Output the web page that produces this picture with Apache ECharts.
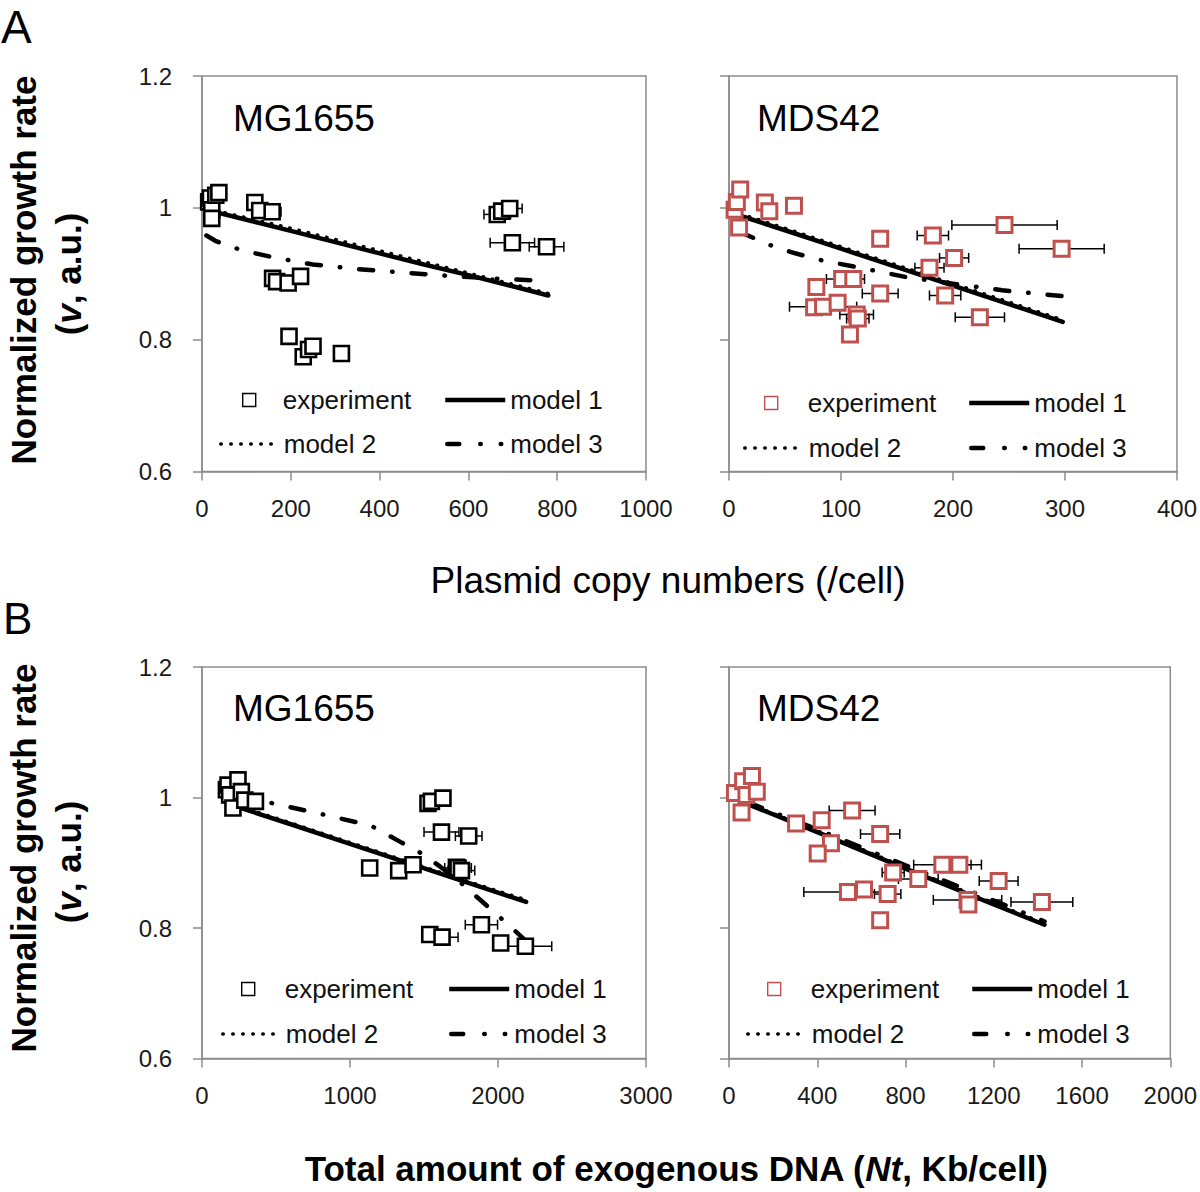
<!DOCTYPE html>
<html><head><meta charset="utf-8">
<script src="https://cdn.jsdelivr.net/npm/echarts@6/dist/echarts.min.js"></script>
<style>html,body{margin:0;padding:0;background:#fff}#chart{width:1200px;height:1192px}</style>
</head><body><div id="chart"></div><script>
// ---------- DATA ----------
// Panel A, MG1655 (plasmid copy numbers)
const aMgX   = [15, 19, 22, 22, 31, 38, 119, 130, 158, 159, 168, 194, 222, 196, 228, 240, 250, 314, 665, 675, 693, 699, 776];
const aMgY   = [1.009, 1.015, 0.997, 0.984, 1.019, 1.023, 1.008, 0.996, 0.994, 0.893, 0.888, 0.886, 0.896, 0.805, 0.774, 0.785, 0.790, 0.779, 0.990, 0.995, 0.999, 0.947, 0.941];
const aMgErr = [0, 0, 0, 0, 0, 0, 0, 10, 20, 0, 0, 0, 0, 0, 0, 0, 0, 0, 30, 25, 28, 50, 39];
const aMgModelX  = [10, 100, 200, 300, 400, 500, 600, 700, 780];
const aMgModel1  = [0.997, 0.982, 0.965, 0.948, 0.931, 0.914, 0.898, 0.881, 0.867];
const aMgModel2  = [0.999, 0.985, 0.969, 0.952, 0.935, 0.918, 0.901, 0.884, 0.870];
const aMgModel3X = [10, 30, 60, 100, 160, 250, 350, 450, 550, 650, 780];
const aMgModel3  = [0.958, 0.950, 0.942, 0.934, 0.925, 0.914, 0.907, 0.902, 0.897, 0.893, 0.889];

// Panel A, MDS42
const aMdsX   = [5, 7, 10, 9, 32, 36, 58, 135, 182, 246, 297, 201, 179, 78, 101, 111, 135, 193, 76, 84, 97, 114, 115, 108, 224];
const aMdsY   = [0.997, 1.009, 1.028, 0.970, 1.008, 0.995, 1.003, 0.953, 0.958, 0.974, 0.938, 0.924, 0.909, 0.880, 0.892, 0.892, 0.870, 0.867, 0.849, 0.850, 0.856, 0.838, 0.832, 0.808, 0.834];
const aMdsErr = [0, 0, 0, 0, 0, 0, 0, 0, 14, 47, 38, 13, 13, 0, 14, 10, 16, 14, 0, 30, 0, 15, 10, 0, 22];
const aMdsModelX  = [10, 50, 100, 150, 200, 250, 298];
const aMdsModel1  = [0.988, 0.966, 0.938, 0.910, 0.882, 0.854, 0.827];
const aMdsModel2  = [0.991, 0.969, 0.941, 0.913, 0.885, 0.857, 0.830];
const aMdsModel3X = [10, 17, 34, 57, 81, 129, 158, 200, 244, 298];
const aMdsModel3  = [0.963, 0.958, 0.945, 0.932, 0.921, 0.905, 0.895, 0.885, 0.875, 0.866];

// Panel B, MG1655 (total exogenous DNA)
const bMgX   = [165, 176, 187, 209, 243, 266, 289, 361, 1133, 1329, 1426, 1527, 1550, 1628, 1618, 1802, 1719, 1730, 1753, 1888, 1539, 1622, 2018, 2185];
const bMgY   = [1.012, 1.019, 1.004, 0.984, 1.027, 1.009, 0.996, 0.994, 0.892, 0.888, 0.897, 0.991, 0.994, 0.999, 0.947, 0.941, 0.893, 0.892, 0.888, 0.805, 0.790, 0.786, 0.777, 0.772];
const bMgErr = [0, 0, 0, 0, 0, 0, 0, 0, 0, 0, 0, 0, 0, 0, 118, 90, 0, 90, 90, 109, 0, 108, 0, 178];
const bMgModelX  = [260, 600, 1000, 1400, 1800, 2190];
const bMgModel1  = [0.984, 0.959, 0.929, 0.899, 0.869, 0.840];
const bMgModel2  = [0.986, 0.961, 0.931, 0.901, 0.871, 0.843];
const bMgModel3X = [250, 420, 780, 1140, 1340, 1470, 1610, 1750, 1930, 2040, 2190];
const bMgModel3  = [1.000, 0.994, 0.976, 0.957, 0.932, 0.916, 0.894, 0.869, 0.833, 0.811, 0.780];

// Panel B, MDS42
const bMdsX   = [27, 57, 64, 79, 104, 126, 304, 420, 558, 685, 462, 402, 744, 858, 967, 1044, 1222, 539, 612, 719, 1081, 1085, 1418, 685];
const bMdsY   = [1.007, 0.977, 1.025, 1.004, 1.033, 1.009, 0.960, 0.965, 0.980, 0.944, 0.930, 0.914, 0.885, 0.875, 0.897, 0.897, 0.872, 0.855, 0.859, 0.852, 0.843, 0.836, 0.840, 0.812];
const bMdsErr = [0, 0, 0, 0, 0, 0, 0, 0, 104, 89, 0, 0, 50, 90, 130, 100, 88, 200, 0, 60, 155, 0, 140, 0];
const bMdsModelX  = [90, 400, 800, 1200, 1430];
const bMdsModel1  = [0.989, 0.947, 0.891, 0.836, 0.805];
const bMdsModel2  = [0.990, 0.949, 0.893, 0.838, 0.807];
const bMdsModel3X = [90, 400, 800, 1200, 1430];
const bMdsModel3  = [0.992, 0.951, 0.896, 0.842, 0.810];

// Axis ranges / tick labels
const yTicks = [0.6, 0.8, 1.0, 1.2];
const xRanges = [[0, 1000, 200], [0, 400, 100], [0, 3000, 1000], [0, 2000, 400]];
const strainNames = ['MG1655', 'MDS42', 'MG1655', 'MDS42'];
const legendLabels = ['experiment', 'model 1', 'model 2', 'model 3'];

// ---------- STYLE / LAYOUT ----------
const FONT = '"Liberation Sans", Arial, Helvetica, sans-serif';
const AXIS_GRAY = '#8c8c8c';
const RED = '#C0504D';
const gridsPos = [
  {left: 202, top: 76, width: 444, height: 395.5},
  {left: 729, top: 76, width: 449, height: 395.5},
  {left: 202, top: 667, width: 444, height: 391.5},
  {left: 729, top: 667, width: 449, height: 391.5}
];
const panels = [
  {id: 'A1', color: '#000', bw: 2.6, ex: aMgX, ey: aMgY, err: aMgErr, mx: aMgModelX, m1: aMgModel1, m2: aMgModel2, m3x: aMgModel3X, m3: aMgModel3},
  {id: 'A2', color: RED, bw: 3, ex: aMdsX, ey: aMdsY, err: aMdsErr, mx: aMdsModelX, m1: aMdsModel1, m2: aMdsModel2, m3x: aMdsModel3X, m3: aMdsModel3},
  {id: 'B1', color: '#000', bw: 2.6, ex: bMgX, ey: bMgY, err: bMgErr, mx: bMgModelX, m1: bMgModel1, m2: bMgModel2, m3x: bMgModel3X, m3: bMgModel3},
  {id: 'B2', color: RED, bw: 3, ex: bMdsX, ey: bMdsY, err: bMdsErr, mx: bMdsModelX, m1: bMdsModel1, m2: bMdsModel2, m3x: bMdsModel3X, m3: bMdsModel3}
];
// legend placement per panel: [row1 centre y, row2 centre y, square left, text start, line left (col2), dotted left]
const legendPos = [
  [400, 444, 242, 282, 443, 217],
  [403, 448, 764, 807, 967, 741],
  [989, 1034, 241, 284, 447, 219],
  [989, 1034, 767, 810, 970, 744]
];
const M1_STYLE = {color: '#000', width: 4.5, type: 'solid', cap: 'round'};
const M2_STYLE = {color: '#000', width: 3.5, type: [0.5, 9], cap: 'round'};
const M3_STYLE = {color: '#000', width: 4.5, type: [14, 19, 0.5, 19], cap: 'round'};

const zip = (xs, ys) => xs.map((x, i) => [x, ys[i]]);

const grid = gridsPos.map(g => Object.assign({show: true, borderColor: AXIS_GRAY, borderWidth: 1.5, backgroundColor: 'transparent'}, g));
const xAxis = xRanges.map((r, i) => ({
  type: 'value', gridIndex: i, min: r[0], max: r[1], interval: r[2],
  axisLine: {show: true, onZero: false, lineStyle: {color: AXIS_GRAY, width: 1.5}},
  axisTick: {show: true, inside: false, length: 9, lineStyle: {color: AXIS_GRAY, width: 1.5}},
  axisLabel: {fontSize: 24, color: '#1a1a1a', fontFamily: FONT, margin: 25, formatter: v => String(v)},
  splitLine: {show: false}
}));
const yAxis = [0, 1, 2, 3].map(i => ({
  type: 'value', gridIndex: i, min: yTicks[0], max: yTicks[yTicks.length - 1], interval: yTicks[1] - yTicks[0],
  axisLine: {show: true, onZero: false, lineStyle: {color: AXIS_GRAY, width: 1.5}},
  axisTick: {show: true, inside: false, length: 9, lineStyle: {color: AXIS_GRAY, width: 1.5}},
  axisLabel: {show: i % 2 === 0, fontSize: 24, color: '#1a1a1a', fontFamily: FONT, margin: 30},
  splitLine: {show: false}
}));

const series = [];
const legend = [];
panels.forEach((p, i) => {
  const nm = k => p.id + '|' + legendLabels[k];
  series.push({
    type: 'custom', xAxisIndex: i, yAxisIndex: i, silent: true, z: 2,
    data: p.ex.map((x, j) => [x, p.ey[j], p.err[j]]).filter(d => d[2] > 0),
    encode: {x: 0, y: 1},
    renderItem: (params, api) => {
      const x = api.value(0), y = api.value(1), e = api.value(2);
      const a = api.coord([x - e, y]), b = api.coord([x + e, y]);
      const h = 5, st = {stroke: '#000', lineWidth: 1.5};
      return {type: 'group', children: [
        {type: 'line', shape: {x1: a[0], y1: a[1], x2: b[0], y2: b[1]}, style: st},
        {type: 'line', shape: {x1: a[0], y1: a[1] - h, x2: a[0], y2: a[1] + h}, style: st},
        {type: 'line', shape: {x1: b[0], y1: b[1] - h, x2: b[0], y2: b[1] + h}, style: st}
      ]};
    }
  });
  series.push({name: nm(1), type: 'line', xAxisIndex: i, yAxisIndex: i, z: 3, symbol: 'none', silent: true,
    data: zip(p.mx, p.m1), lineStyle: M1_STYLE, itemStyle: {color: '#000'}});
  series.push({name: nm(2), type: 'line', xAxisIndex: i, yAxisIndex: i, z: 3, symbol: 'none', silent: true,
    data: zip(p.mx, p.m2), lineStyle: M2_STYLE, itemStyle: {color: '#000'}});
  series.push({name: nm(3), type: 'line', xAxisIndex: i, yAxisIndex: i, z: 3, symbol: 'none', silent: true,
    data: zip(p.m3x, p.m3), lineStyle: M3_STYLE, itemStyle: {color: '#000'}});
  series.push({name: nm(0), type: 'scatter', xAxisIndex: i, yAxisIndex: i, z: 5, silent: true,
    symbol: 'rect', symbolSize: 15, data: zip(p.ex, p.ey),
    itemStyle: {color: '#fff', borderColor: p.color, borderWidth: p.bw, opacity: 1}});

  const L = legendPos[i];
  const base = {padding: 0, selectedMode: false, itemHeight: 14,
    formatter: n => n.split('|')[1],
    textStyle: {fontSize: 26, fontFamily: FONT, color: '#111', lineHeight: 28}};
  const hideSym = {opacity: 0};
  legend.push(Object.assign({}, base, {data: [nm(0)], left: L[2], top: L[0] - 14, itemWidth: 13, itemHeight: 13,
    itemStyle: {color: '#fff', borderColor: p.color, borderWidth: 1.4},
    textStyle: Object.assign({}, base.textStyle, {padding: [0, 0, 0, L[3] - L[2] - 18]})}));
  legend.push(Object.assign({}, base, {data: [nm(1)], left: L[4], top: L[0] - 14, itemWidth: 60, itemStyle: hideSym,
    lineStyle: {color: '#000', width: 4.5, type: 'solid', cap: 'butt'}}));
  legend.push(Object.assign({}, base, {data: [nm(2)], left: L[5], top: L[1] - 14, itemWidth: L[3] - L[5] - 5, itemStyle: hideSym,
    lineStyle: {color: '#000', width: 3.5, type: [0.5, 9.5], cap: 'round', dashOffset: -2}}));
  legend.push(Object.assign({}, base, {data: [nm(3)], left: L[4], top: L[1] - 14, itemWidth: 60, itemStyle: hideSym,
    lineStyle: {color: '#000', width: 4.5, type: [12, 21, 0.5, 20, 0.5, 10], cap: 'round', dashOffset: -2}}));
});

const txt = (x, y, text, font, align, extra) => Object.assign({type: 'text', x, y, silent: true,
  style: {text, font, fill: '#000', align: align || 'left', verticalAlign: 'middle', textAlign: align || 'left', textVerticalAlign: 'middle'}}, extra || {});
const graphic = [
  txt(1, 27, 'A', '46px ' + FONT),
  txt(3, 618, 'B', '44px ' + FONT),
  txt(233, 118, strainNames[0], '37px ' + FONT),
  txt(757, 118, strainNames[1], '37px ' + FONT),
  txt(233, 708, strainNames[2], '37px ' + FONT),
  txt(757, 708, strainNames[3], '37px ' + FONT),
  txt(668, 580, 'Plasmid copy numbers (/cell)', '37px ' + FONT, 'center'),
  {type: 'text', x: 676, y: 1168, silent: true, style: {
    text: '{b|Total amount of exogenous DNA (}{i|Nt}{b|, Kb/cell)}', align: 'center', verticalAlign: 'middle',
    textAlign: 'center', textVerticalAlign: 'middle',
    rich: {b: {font: 'bold 35px ' + FONT, fill: '#000'}, i: {font: 'italic bold 35px ' + FONT, fill: '#000'}}}}
];
[270, 858].forEach(cy => {
  graphic.push(txt(23, cy, 'Normalized growth rate', 'bold 35px ' + FONT, 'center', {rotation: Math.PI / 2}));
  graphic.push({type: 'text', x: 68, y: cy + 4, rotation: Math.PI / 2, silent: true, style: {
    text: '{b|(}{i|v}{b|, a.u.)}', align: 'center', verticalAlign: 'middle', textAlign: 'center', textVerticalAlign: 'middle',
    rich: {b: {font: 'bold 35px ' + FONT, fill: '#000'}, i: {font: 'italic bold 35px ' + FONT, fill: '#000'}}}});
});

const chart = echarts.init(document.getElementById('chart'), null, {renderer: 'svg'});
chart.setOption({
  animation: false, backgroundColor: '#fff',
  grid, xAxis, yAxis, series, legend, graphic
});
</script></body></html>
